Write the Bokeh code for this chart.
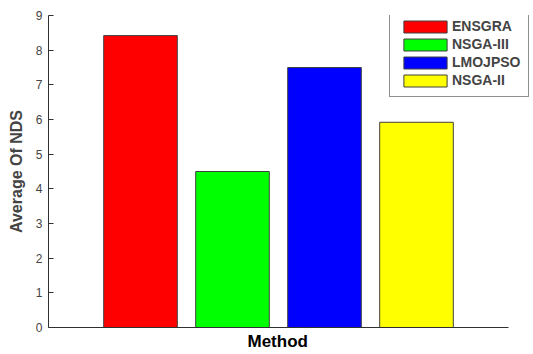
from bokeh.plotting import figure
from bokeh.models import ColumnDataSource, FixedTicker, Range1d, Legend, LegendItem, Title
from bokeh.embed import file_html
from bokeh.resources import INLINE

methods = ["ENSGRA", "NSGA-III", "LMOJPSO", "NSGA-II"]
values = [8.42, 4.5, 7.5, 5.92]
colors = ["#ff0000", "#00ff00", "#0000ff", "#ffff00"]
positions = [1, 2, 3, 4]
y_ticks = [0, 1, 2, 3, 4, 5, 6, 7, 8, 9]

x_end = 5 * 482 / 460

p = figure(frame_width=482, frame_height=312, output_backend="svg", toolbar_location=None,
           x_range=Range1d(0, x_end), y_range=Range1d(0, 9),
           min_border_left=48, min_border_top=15, min_border_right=0, min_border_bottom=2)
p.outline_line_color = None
p.grid.visible = False
p.background_fill_color = "white"

items = []
for i in range(len(methods)):
    src = ColumnDataSource(dict(x=[positions[i]], top=[values[i]]))
    r = p.vbar(x="x", top="top", width=0.8, bottom=0, source=src,
               fill_color=colors[i], line_color="#404040", line_width=1)
    items.append(LegendItem(label=methods[i], renderers=[r]))

p.yaxis.ticker = FixedTicker(ticks=y_ticks)
p.yaxis.minor_tick_line_color = None
p.yaxis.major_tick_in = 5
p.yaxis.major_tick_out = 0
p.yaxis.axis_line_color = "#303030"
p.yaxis.major_tick_line_color = "#303030"
p.yaxis.major_label_text_font = "Liberation Sans"
p.yaxis.major_label_text_font_size = "12px"
p.yaxis.major_label_text_color = "#444444"
p.yaxis.major_label_standoff = 6
p.yaxis.axis_label = "Average Of NDS"
p.yaxis.axis_label_text_font = "Liberation Sans"
p.yaxis.axis_label_text_font_style = "bold"
p.yaxis.axis_label_text_font_size = "16px"
p.yaxis.axis_label_standoff = 8

p.xaxis.ticker = FixedTicker(ticks=[])
p.xaxis.bounds = (0, 5)
p.xaxis.minor_tick_line_color = None
p.xaxis.major_tick_line_color = None
p.xaxis.major_label_text_font_size = "0px"
p.xaxis.axis_line_color = "#303030"

xlab = Title(text="Method", align="left", offset=199, standoff=4,
             text_font="Liberation Sans", text_font_style="bold",
             text_font_size="17px", text_color="black")
p.add_layout(xlab, "below")

legend = Legend(items=items, location=(341, 230))
legend.border_line_color = "#202020"
legend.border_line_width = 1
legend.label_text_font = "Liberation Sans"
legend.label_text_font_style = "bold"
legend.label_text_font_size = "14px"
legend.glyph_width = 54
legend.glyph_height = 15
legend.label_height = 15
legend.spacing = 2
legend.padding = 8
legend.margin = 0
legend.label_standoff = 0
p.add_layout(legend, "center")

open("out.html", "w").write(file_html(p, INLINE))
